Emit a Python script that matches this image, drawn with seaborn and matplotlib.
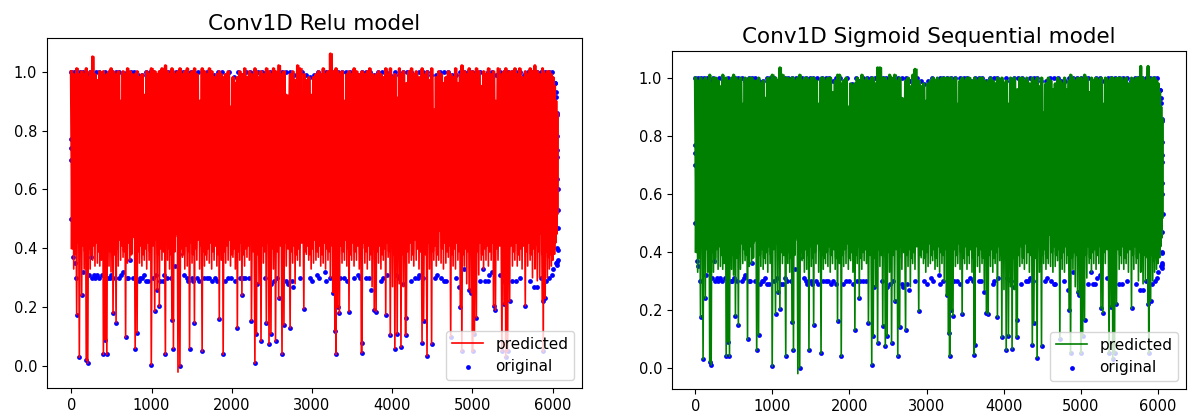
import matplotlib
matplotlib.use("Agg")
import matplotlib.pyplot as plt
import seaborn as sns

# Values: the predicted line runs low, high, low, high...
low_x = [0, 30, 67, 100, 129, 160, 186, 205, 235, 265,
         295, 325, 355, 375, 400, 420, 443, 470, 495, 520,
         558, 585, 615, 645, 677, 700, 730, 760, 796, 820,
         850, 880, 910, 940, 970, 997, 1040, 1070, 1097, 1130,
         1173, 1200, 1225, 1254, 1273, 1300, 1330, 1354, 1385, 1415,
         1445, 1474, 1505, 1535, 1565, 1600, 1631, 1660, 1690, 1720,
         1750, 1780, 1815, 1845, 1870, 1893, 1925, 1955, 1985, 2015,
         2045, 2070, 2100, 2127, 2160, 2190, 2220, 2246, 2289, 2308,
         2340, 2365, 2395, 2432, 2465, 2489, 2520, 2546, 2585, 2627,
         2651, 2680, 2728, 2760, 2790, 2820, 2850, 2899, 2930, 2960,
         2990, 3020, 3050, 3080, 3110, 3140, 3170, 3200, 3230, 3260,
         3286, 3300, 3320, 3343, 3375, 3405, 3435, 3462, 3495, 3525,
         3555, 3590, 3619, 3624, 3660, 3690, 3720, 3750, 3777, 3800,
         3830, 3860, 3890, 3920, 3950, 3977, 4005, 4034, 4063, 4090,
         4110, 4140, 4168, 4177, 4210, 4240, 4270, 4300, 4335, 4373,
         4392, 4435, 4465, 4492, 4520, 4550, 4580, 4610, 4640, 4670,
         4700, 4730, 4760, 4790, 4820, 4850, 4869, 4900, 4930, 4960,
         4985, 5002, 5026, 5050, 5080, 5110, 5140, 5170, 5200, 5235,
         5264, 5288, 5320, 5369, 5395, 5417, 5440, 5465, 5500, 5530,
         5560, 5590, 5620, 5660, 5690, 5720, 5750, 5780, 5810, 5840,
         5875, 5884, 5908, 5935, 5960, 5985, 6005, 6025, 6040, 6055]
low_y = [.40, .33, .175, .03, .24, .33, .02, .01, .33, .36,
         .34, .35, .34, .36, .04, .09, .04, .34, .32, .18,
         .148, .34, .36, .37, .098, .35, .36, .43, .06, .114,
         .35, .34, .36, .33, .36, .005, .187, .26, .203, .36,
         .04, .36, .33, .158, .06, .44, -.02, .0, .37, .33,
         .34, .06, .35, .147, .36, .33, .05, .34, .36, .35,
         .33, .36, .34, .16, .36, .04, .35, .36, .34, .37,
         .33, .13, .36, .24, .34, .37, .36, .155, .01, .11,
         .28, .085, .35, .145, .075, .11, .33, .085, .23, .04,
         .14, .34, .13, .35, .28, .36, .34, .195, .38, .36,
         .33, .35, .36, .37, .34, .35, .33, .36, .30, .25,
         .12, .04, .20, .18, .35, .36, .34, .185, .36, .34,
         .36, .33, .045, .08, .35, .33, .36, .27, .19, .185,
         .35, .33, .36, .175, .37, .105, .27, .06, .11, .28,
         .065, .27, .105, .165, .35, .36, .34, .36, .33, .08,
         .155, .035, .33, .075, .36, .34, .36, .35, .33, .35,
         .37, .10, .34, .33, .36, .20, .05, .34, .28, .26,
         .25, .05, .11, .165, .31, .36, .33, .36, .34, .36,
         .205, .19, .36, .05, .21, .03, .05, .22, .34, .36,
         .34, .36, .33, .205, .34, .36, .30, .33, .29, .30,
         .22, .05, .23, .30, .33, .34, .36, .38, .42, .50]
high_x = [15, 48, 84, 115, 145, 173, 195, 220, 250, 281,
          310, 340, 365, 388, 410, 432, 456, 482, 508, 540,
          572, 600, 630, 660, 688, 715, 745, 778, 808, 835,
          865, 895, 925, 955, 984, 1018, 1055, 1084, 1114, 1150,
          1186, 1212, 1240, 1264, 1286, 1315, 1342, 1370, 1400, 1430,
          1460, 1490, 1520, 1550, 1582, 1615, 1645, 1675, 1705, 1735,
          1765, 1797, 1830, 1858, 1882, 1910, 1940, 1970, 2000, 2030,
          2058, 2085, 2114, 2144, 2175, 2205, 2233, 2268, 2298, 2324,
          2352, 2380, 2414, 2449, 2477, 2505, 2533, 2566, 2606, 2639,
          2665, 2704, 2744, 2775, 2805, 2835, 2875, 2915, 2945, 2975,
          3005, 3035, 3065, 3095, 3125, 3155, 3185, 3215, 3252, 3273,
          3293, 3310, 3332, 3359, 3390, 3420, 3449, 3479, 3510, 3540,
          3572, 3605, 3621, 3642, 3675, 3705, 3735, 3764, 3789, 3815,
          3845, 3875, 3905, 3935, 3964, 3991, 4020, 4048, 4077, 4100,
          4125, 4154, 4172, 4194, 4225, 4255, 4285, 4318, 4354, 4382,
          4414, 4450, 4478, 4506, 4535, 4565, 4595, 4625, 4655, 4685,
          4715, 4745, 4775, 4805, 4835, 4860, 4885, 4915, 4945, 4972,
          4994, 5014, 5038, 5065, 5095, 5125, 5155, 5185, 5218, 5250,
          5276, 5304, 5345, 5382, 5406, 5428, 5452, 5482, 5515, 5545,
          5575, 5605, 5640, 5675, 5705, 5735, 5765, 5782, 5825, 5858,
          5874, 5896, 5922, 5948, 5972, 5995, 6015, 6032, 6048, 6060]
relu_high = [1.0, .99, 1.01, .99, 1.0, .99, 1.01, .98, 1.0, 1.05,
             .99, .97, 1.0, .99, 1.0, .86, .99, 1.0, 1.01, 1.0,
             .99, 1.0, .90, 1.0, .99, 1.01, 1.0, .99, .99, 1.0,
             .98, .99, .92, 1.0, .99, 1.01, 1.0, .99, 1.0, 1.01,
             1.02, 1.0, .99, 1.01, 1.0, .99, 1.0, 1.01, .99, 1.0,
             1.01, .99, 1.0, 1.01, .99, .90, 1.01, 1.0, .99, 1.01,
             1.0, .98, .99, 1.0, .99, .98, .99, 1.0, .88, .98,
             .96, .98, 1.0, .99, 1.01, .98, 1.0, .99, 1.01, 1.0,
             .98, 1.0, .99, 1.01, 1.0, .99, 1.01, 1.0, 1.02, .99,
             1.0, .92, .99, 1.0, .97, 1.02, 1.01, .99, .97, .98,
             .92, .98, .99, 1.0, .99, 1.01, .99, 1.0, 1.06, 1.0,
             .99, 1.01, 1.0, .99, 1.0, .90, .99, 1.0, .99, 1.01,
             1.0, .99, .93, 1.0, .99, 1.0, 1.01, .99, .98, .99,
             1.0, .99, .98, 1.01, .99, 1.01, .98, .99, .91, 1.01,
             .99, 1.0, .91, .96, 1.0, 1.01, .99, 1.0, .98, 1.01,
             .99, 1.0, .97, 1.01, .87, .98, 1.0, .99, .96, .98,
             1.0, .99, .98, 1.01, .96, .99, 1.02, 1.0, .99, 1.01,
             .98, 1.0, .99, 1.01, 1.0, .95, 1.0, .99, 1.01, .99,
             1.0, .90, 1.01, .99, 1.0, 1.01, .99, 1.0, 1.0, 1.01,
             .99, 1.01, .98, 1.0, .99, 1.01, 1.0, 1.02, 1.0, .99,
             1.01, 1.0, .99, 1.0, 1.0, .99, .98, .95, .90, .86]
sig_high = [1.0, .99, 1.0, .99, 1.0, .99, 1.01, .98, 1.0, 1.0,
            .99, .97, 1.01, .99, 1.0, .87, .99, 1.0, 1.01, 1.0,
            .99, 1.0, .91, 1.0, .99, 1.0, 1.0, .99, .99, 1.0,
            .98, .99, .93, 1.0, .99, 1.01, 1.0, .99, 1.035, 1.01,
            1.0, 1.0, .99, 1.0, 1.0, .99, 1.0, 1.01, .99, 1.0,
            1.0, .99, 1.0, 1.0, .99, .91, 1.0, 1.0, .99, 1.0,
            1.0, .95, .99, 1.01, 1.01, .98, .99, 1.0, .90, .98,
            .97, .98, 1.0, .99, 1.01, .99, 1.0, .99, 1.0, 1.0,
            .98, 1.035, 1.035, 1.0, 1.0, .99, 1.01, 1.0, 1.01, .99,
            1.0, .93, .99, 1.0, .97, 1.01, 1.03, .99, .97, .98,
            .92, .98, .99, 1.0, .99, 1.0, .99, 1.0, 1.0, 1.0,
            .99, 1.0, 1.0, .99, 1.0, .91, .99, 1.0, .99, 1.0,
            1.0, .99, .94, 1.0, .99, 1.0, 1.0, .99, .98, .99,
            1.0, .99, .98, 1.0, .99, 1.0, .98, .99, .91, 1.0,
            .99, 1.0, .92, .96, 1.0, 1.0, .99, 1.0, .98, 1.0,
            .99, 1.0, .97, 1.0, .88, .98, 1.0, .99, .96, .98,
            1.0, .99, .98, 1.0, .96, .99, 1.01, 1.0, .99, 1.0,
            .98, 1.0, .99, 1.01, 1.0, .95, 1.0, .99, 1.0, .99,
            1.0, .91, 1.0, .99, 1.0, 1.0, .99, 1.0, 1.0, 1.0,
            .99, 1.0, .98, 1.0, .99, 1.0, 1.0, 1.04, 1.0, .99,
            1.04, 1.0, .99, 1.0, 1.0, .99, .98, .95, .90, .86]
# shallower swings of the predicted line that close the solid band
core_low = [.40, .38, .42, .40, .41, .39, .43, .40, .38, .41,
            .42, .39, .40, .44, .38, .41, .40, .39, .42, .38,
            .40, .43, .41, .39, .40, .42, .38, .44, .40, .39,
            .41, .38, .40, .42, .39, .41, .43, .38, .40, .39,
            .42, .40, .38, .41, .39, .45, .42, .40, .38, .41,
            .39, .42, .38, .40, .43, .41, .39, .38, .40, .42,
            .39, .41, .38, .42, .40, .39, .41, .43, .38, .40,
            .41, .39, .42, .38, .40, .41, .50, .39, .42, .38,
            .40, .41, .39, .42, .38, .40, .43, .39, .41, .38,
            .42, .40, .39, .41, .38, .40, .42, .39, .41, .38,
            .40, .43, .39, .41, .38, .42, .40, .39, .41, .38,
            .42, .40, .38, .41, .39, .43, .40, .38, .42, .39,
            .41, .38, .40, .42, .39, .41, .38, .40, .43, .39,
            .41, .38, .40, .42, .39, .41, .38, .40, .39, .42,
            .38, .41, .40, .39, .42, .38, .43, .40, .39, .41,
            .38, .42, .40, .39, .41, .38, .46, .40, .42, .39,
            .41, .38, .40, .42, .39, .41, .38, .40, .39, .42,
            .38, .41, .40, .39, .42, .38, .40, .41, .39, .42,
            .38, .40, .41, .39, .42, .38, .40, .41, .39, .42,
            .38, .40, .41, .39, .42, .38, .40, .41, .39, .45,
            .38, .40, .39, .37, .38, .39, .40, .42, .45, .52]

# original points that show along the floor, the top and both ends
floor_x = [20, 40, 55, 140, 215, 245, 255, 280, 300, 315, 345, 385, 415, 460, 480, 500, 545,
           600, 625, 650, 690, 710, 735, 770, 840, 860, 880, 905, 925, 950, 1020, 1060, 1110,
           1140, 1160, 1190, 1240, 1290, 1340, 1410, 1440, 1455, 1500, 1520, 1570, 1590, 1650,
           1690, 1720, 1760, 1790, 1820, 1910, 1950, 1990, 2040, 2100, 2140, 2170, 2215, 2320,
           2420, 2490, 2530, 2560, 2680, 2700, 2750, 2770, 2850, 2970, 3000, 3060, 3090, 3160,
           3170, 3220, 3350, 3400, 3440, 3520, 3570, 3600, 3680, 3710, 3740, 3860, 3880, 3930,
           4050, 4090, 4130, 4230, 4290, 4320, 4340, 4380, 4540, 4560, 4610, 4650, 4670, 4790,
           4830, 4900, 5090, 5130, 5160, 5190, 5210, 5250, 5340, 5390, 5430, 5500, 5540, 5600,
           5720, 5770, 5810, 5850, 5920, 5960, 5990, 6010, 6040]
floor_y = [.37, .35, .30, .32, .31, .37, .30, .31, .30, .31, .30, .31, .31, .30, .30, .31, .30,
           .30, .31, .32, .30, .30, .36, .30, .29, .30, .30, .31, .29, .29, .30, .31, .29,
           .29, .31, .30, .30, .34, .38, .31, .30, .29, .30, .29, .30, .29, .30,
           .30, .30, .29, .30, .29, .29, .30, .30, .29, .30, .30, .30, .30, .28,
           .30, .28, .29, .30, .29, .28, .29, .27, .30, .30, .29, .31, .30, .32,
           .29, .30, .30, .30, .29, .30, .31, .30, .30, .30, .26, .29, .30, .31,
           .31, .30, .28, .29, .30, .30, .31, .30, .30, .31, .30, .29, .29, .30,
           .27, .33, .29, .33, .29, .29, .31, .32, .31, .29, .30, .29, .29, .30,
           .29, .27, .27, .30, .29, .30, .31, .33, .35]
top_x = [0, 30, 70, 110, 150, 190, 230, 270, 310, 345, 385, 420, 470, 510, 555, 600, 650, 690,
         740, 780, 830, 880, 930, 975, 1020, 1060, 1110, 1160, 1200, 1250, 1300, 1350, 1390,
         1440, 1490, 1530, 1580, 1640, 1690, 1730, 1780, 1830, 1880, 1930, 1970, 2030, 2080,
         2130, 2180, 2230, 2280, 2330, 2380, 2430, 2480, 2530, 2580, 2630, 2680, 2730, 2780,
         2830, 2880, 2930, 2970, 3020, 3070, 3120, 3170, 3220, 3270, 3320, 3370, 3430, 3480,
         3530, 3580, 3630, 3680, 3720, 3770, 3820, 3870, 3920, 3970, 4030, 4080, 4130, 4190,
         4240, 4290, 4340, 4390, 4440, 4490, 4550, 4600, 4650, 4700, 4750, 4800, 4850, 4900,
         4950, 5000, 5050, 5100, 5150, 5200, 5250, 5300, 5350, 5400, 5450, 5500, 5550, 5600,
         5650, 5700, 5750, 5800, 5850, 5900, 5950, 5990, 6025]
top_y = [1.0, 1.0, 1.0, 1.0, 1.0, .99, 1.0, .99, 1.0, 1.0, .99, 1.0, .99, 1.0, 1.0, 1.0, .99, 1.0,
         1.0, 1.0, .99, .99, 1.0, 1.0, 1.0, .99, 1.0, 1.0, 1.0, 1.0, 1.0, .99, 1.0,
         1.0, 1.0, 1.0, 1.0, 1.0, 1.0, 1.0, .99, 1.0, 1.0, .99, 1.0, .98, 1.0,
         .99, 1.0, 1.0, 1.0, 1.0, 1.0, 1.0, 1.0, 1.0, .99, 1.0, 1.0, 1.0, .99,
         1.0, 1.0, .99, .98, .99, 1.0, .99, 1.0, 1.0, 1.0, 1.0, 1.0, 1.0, 1.0,
         1.0, .99, 1.0, 1.0, 1.0, .99, 1.0, 1.0, 1.0, .99, 1.0, .99, 1.0, 1.0,
         1.0, .99, 1.0, 1.0, 1.0, .99, .99, 1.0, 1.0, 1.0, .99, .99, 1.0, 1.0,
         1.0, 1.0, 1.0, 1.0, .99, 1.0, 1.0, .99, 1.0, 1.0, 1.0, 1.0, 1.0, 1.0,
         .99, 1.0, 1.0, 1.0, 1.0, 1.0, 1.0, 1.0, .96]
edge_x = [0, 0, 0, 0, 6030, 6040, 6048, 6052, 6058, 6060, 6056, 6060, 6058, 6062, 6064, 6062,
          6060, 6062, 6062, 6058, 6054]
edge_y = [.50, .70, .74, .77, .96, .93, .915, .86, .853, .78, .733, .71, .637, .60, .53, .47,
          .40, .395, .36, .355, .345]

tick_x = [0, 1000, 2000, 3000, 4000, 5000, 6000]
tick_y = [0.0, 0.2, 0.4, 0.6, 0.8, 1.0]

# Dips are where the original points sit on the line ends
dip_x = [x for x, y in zip(low_x, low_y) if 0 <= y < 0.27]
dip_y = [y for y in low_y if 0 <= y < 0.27]
orig_x = dip_x + floor_x + top_x + edge_x
orig_y = dip_y + floor_y + top_y + edge_y


def draw(ax, high_y, color, title):
    pred_x = [v for pair in zip(low_x, high_x) for v in pair]
    pred_y = [v for pair in zip(low_y, high_y) for v in pair]
    core_x = [v for pair in zip(low_x, high_x) for v in pair]
    core_y = [v for pair in zip(high_y, core_low) for v in pair]
    sns.lineplot(x=pred_x, y=pred_y, sort=False, estimator=None, color=color, linewidth=1.2,
                 label='predicted', ax=ax)
    # the dense swings need a heavier stroke to close up like the 6000 point original
    sns.lineplot(x=core_x, y=core_y, sort=False, estimator=None, color=color, linewidth=2.2, ax=ax)
    sns.scatterplot(x=orig_x, y=orig_y, color='blue', s=12, linewidth=0, label='original', ax=ax)
    ax.set_xticks(tick_x)
    ax.set_yticks(tick_y)
    ax.tick_params(labelsize=10.5)
    ax.set_title(title, fontsize=15.5, pad=6)
    ax.legend(loc='lower right', fontsize=11)


fig = plt.figure(figsize=(11.88, 4.18), dpi=100)
ax1 = fig.add_axes([47 / 1188, 30 / 418, 535 / 1188, 350 / 418])
ax2 = fig.add_axes([672 / 1188, 29 / 418, 514 / 1188, 338 / 418])

draw(ax1, relu_high, 'red', 'Conv1D Relu model')
draw(ax2, sig_high, 'green', 'Conv1D Sigmoid Sequential model')

plt.savefig('out.png', dpi=100)
